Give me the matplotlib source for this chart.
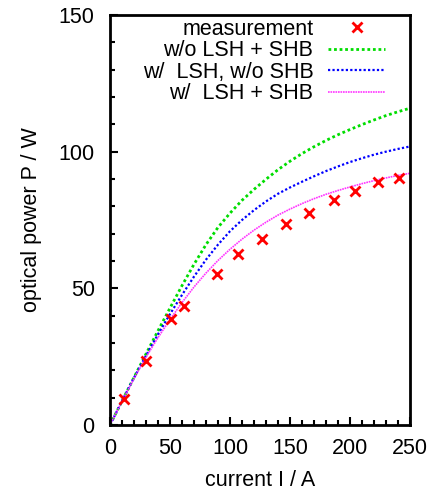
import numpy as np
import matplotlib.pyplot as plt
from matplotlib.ticker import MultipleLocator

plt.rcParams['font.family'] = ['Liberation Sans', 'DejaVu Sans']

# measured points (current / A, optical power / W)
meas_I = [12, 30, 51, 62, 89, 107, 127, 147, 166, 187, 204, 223, 241]
meas_P = [9.4, 23.5, 38.7, 43.5, 55.2, 62.5, 68.1, 73.5, 77.6, 82.3, 85.5, 88.8, 90.4]

# simulated curves, every 10 A
sim_I = list(range(0, 251, 10))
P_no_lsh_shb = [0, 8.8, 17.4, 26.0, 34.5, 42.8, 51.0, 58.8, 66.0, 72.3, 77.5,
                82.2, 86.2, 89.9, 93.4, 96.5, 99.3, 101.8, 104.1, 106.2, 108.1,
                109.9, 111.6, 113.2, 114.6, 115.9]
P_lsh_no_shb = [0, 8.8, 17.3, 25.4, 33.2, 40.6, 47.6, 54.3, 60.5, 66.0, 70.9,
                75.0, 78.6, 81.8, 84.6, 86.9, 89.0, 91.0, 92.9, 94.6, 96.2,
                97.6, 98.9, 100.0, 101.0, 101.9]
P_lsh_shb = [0, 8.7, 17.0, 24.8, 32.0, 38.6, 44.8, 50.5, 55.6, 60.2, 64.3,
             68.0, 71.3, 74.2, 76.8, 79.0, 81.0, 82.8, 84.4, 85.8, 87.1,
             88.3, 89.4, 90.4, 91.3, 92.1]

fig = plt.figure(figsize=(4.34, 4.93), dpi=100)
ax = fig.add_axes([0.2535, 0.1379, 0.6912, 0.8317])

ax.plot(meas_I, meas_P, 'x', color='#ff0000', ms=7, mew=2, label='measurement', zorder=5)
ax.plot(sim_I, P_no_lsh_shb, color='#00dd00', lw=2, ls=(0, (1, 1)), label='w/o LSH + SHB')
ax.plot(sim_I, P_lsh_no_shb, color='#0000ff', lw=1.6, ls=(0, (1, 1)), label='w/  LSH, w/o SHB')
ax.plot(sim_I, P_lsh_shb, color='#ff33ff', lw=1.2, ls=(0, (1, 0.5)), label='w/  LSH + SHB')

ax.set_xlim(0, 250)
ax.set_ylim(0, 150)
ax.xaxis.set_major_locator(MultipleLocator(50))
ax.xaxis.set_minor_locator(MultipleLocator(10))
ax.yaxis.set_major_locator(MultipleLocator(50))
ax.yaxis.set_minor_locator(MultipleLocator(10))
ax.tick_params(which='both', direction='in', top=False, right=False, labelsize=15.5, width=1.5)
ax.tick_params(which='major', length=6)
ax.tick_params(which='minor', length=3.5)
ax.tick_params(axis='x', pad=9)
ax.tick_params(axis='y', pad=11)
for s in ax.spines.values():
    s.set_linewidth(2)

ax.set_xlabel('current I / A', fontsize=15.5, labelpad=8)
ax.set_ylabel('optical power P / W', fontsize=15.5, labelpad=12)

ax.legend(loc='upper right', bbox_to_anchor=(0.972, 1.03), frameon=False,
          markerfirst=False, fontsize=15.5, handlelength=2.65, handletextpad=0.7,
          labelspacing=0.02, borderpad=0.25)

fig.savefig('out.png', dpi=100)
